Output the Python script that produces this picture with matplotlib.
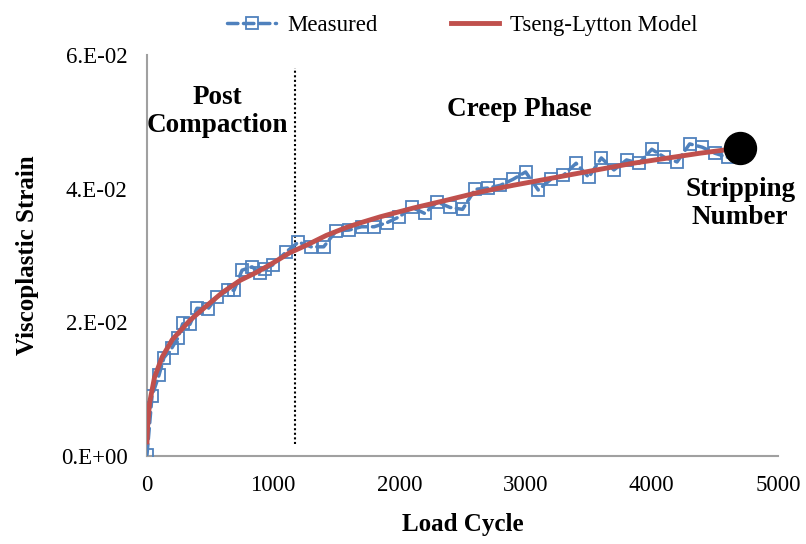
import matplotlib.pyplot as plt
import numpy as np

plt.rcParams['font.family'] = ['Liberation Serif', 'DejaVu Serif']

# measured viscoplastic strain
cycles = [0, 40, 95, 134, 198, 246, 285, 340, 396, 483, 554, 642, 690, 753, 832, 896, 935, 998,
          1100, 1200, 1300, 1400, 1500, 1600, 1700, 1800, 1900, 2000, 2100, 2200, 2300, 2400,
          2500, 2600, 2700, 2800, 2900, 3000, 3100, 3200, 3300, 3400, 3500, 3600, 3700, 3800,
          3900, 4000, 4100, 4200, 4300, 4400, 4500, 4600]
strain = [0.0002, 0.0090, 0.0121, 0.0147, 0.0162, 0.0177, 0.0199, 0.0197, 0.0221, 0.0220,
          0.0238, 0.0248, 0.0248, 0.0278, 0.0283, 0.0274, 0.0280, 0.0286,
          0.0305, 0.0320, 0.0313, 0.0313, 0.0337, 0.0338, 0.0343, 0.0343, 0.0349, 0.0358,
          0.0372, 0.0363, 0.0380, 0.0372, 0.0369, 0.0399, 0.0401, 0.0405, 0.0414, 0.0425,
          0.0398, 0.0414, 0.0420, 0.0438, 0.0417, 0.0446, 0.0428, 0.0443, 0.0438, 0.0459,
          0.0447, 0.0440, 0.0467, 0.0462, 0.0453, 0.0447]

# Tseng-Lytton model curve
model_n = [0, 5, 20, 60, 120, 200, 340, 480, 600, 740, 870, 1000, 1130, 1270, 1420, 1580,
           1710, 1850, 2110, 2380, 2640, 2900, 3330, 3850, 4380, 4700]
model_e = [0.0021, 0.0045, 0.0079, 0.0118, 0.0148, 0.0174, 0.0203, 0.0226, 0.0245, 0.0263,
           0.0275, 0.0289, 0.0304, 0.0316, 0.0330, 0.0342, 0.0350, 0.0358, 0.0371, 0.0383,
           0.0395, 0.0405, 0.0420, 0.0438, 0.0453, 0.0461]

strip_n = 4700
strip_e = 0.0461
phase_split = 1175

blue = '#4F81BD'
red = '#C0504D'

fig = plt.figure(figsize=(8.06, 5.44), dpi=100)
ax = fig.add_axes([147/806, 1-456/544, (778-147)/806, (456-55)/544])

ax.plot(cycles, strain, color=blue, lw=2.5, linestyle=(0, (3, 1.6)), dash_capstyle='round',
        marker='s', markersize=9, markerfacecolor='none', markeredgecolor=blue,
        markeredgewidth=1.3, label='Measured', zorder=3)
ax.plot(model_n, model_e, color=red, lw=3.5, label='Tseng-Lytton Model', zorder=4)
ax.plot([strip_n], [strip_e], 'o', color='black', markersize=23, zorder=5)
ax.plot([phase_split, phase_split], [0.0018, 0.058], color='black', lw=1.5,
        linestyle=(0, (1, 1.2)), zorder=2)

ax.text(560, 0.0516, 'Post\nCompaction', ha='center', va='center', fontsize=19.5,
        fontweight='bold', linespacing=1.15)
ax.text(2950, 0.0519, 'Creep Phase', ha='center', va='center', fontsize=19.5, fontweight='bold')
ax.text(4700, 0.0378, 'Stripping\nNumber', ha='center', va='center', fontsize=19.5,
        fontweight='bold', linespacing=1.15)

ax.set_xlim(0, 5000)
ax.set_ylim(0, 0.06)
ax.set_xticks([0, 1000, 2000, 3000, 4000, 5000])
ax.set_yticks([0, 0.02, 0.04, 0.06])
ax.set_yticklabels(['0.E+00', '2.E-02', '4.E-02', '6.E-02'])
ax.tick_params(length=0, labelsize=16.5)
ax.tick_params(axis='x', pad=14)
ax.tick_params(axis='y', pad=14)
for s in ['top', 'right']:
    ax.spines[s].set_visible(False)
for s in ['left', 'bottom']:
    ax.spines[s].set_color('#A0A0A0')
    ax.spines[s].set_linewidth(1.5)

ax.set_xlabel('Load Cycle', fontsize=18, fontweight='bold', labelpad=12)
ax.set_ylabel('Viscoplastic Strain', fontsize=18, fontweight='bold', labelpad=16)

fig.legend(loc='upper center', bbox_to_anchor=(0.574, 1.01), ncol=2, frameon=False,
           fontsize=16.5, handlelength=2.1, columnspacing=3.2, handletextpad=0.5)

fig.savefig('out.png', dpi=100)
